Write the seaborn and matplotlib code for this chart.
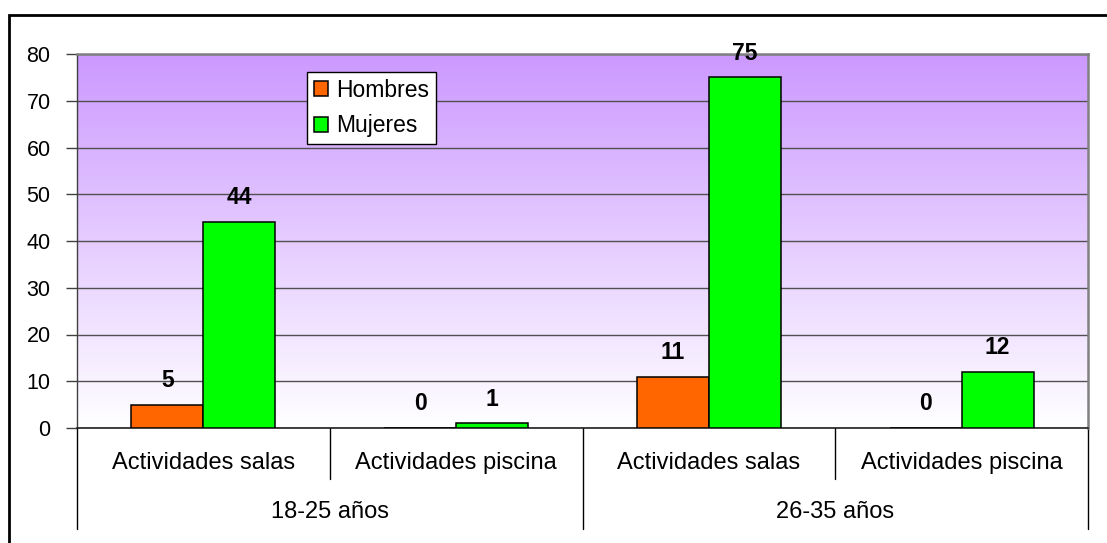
import numpy as np
import pandas as pd
import matplotlib
matplotlib.use("Agg")
import matplotlib.pyplot as plt
import seaborn as sns
from matplotlib.patches import Rectangle

# datos
grupos = ['18-25 años', '18-25 años', '26-35 años', '26-35 años']
actividades = ['Actividades salas', 'Actividades piscina', 'Actividades salas', 'Actividades piscina']
hombres = [5, 0, 11, 0]
mujeres = [44, 1, 75, 12]
series = ['Hombres', 'Mujeres']
colores = ['#FF6600', '#00FF00']
yticks = list(range(0, 81, 10))

claves = [f"{g}|{a}" for g, a in zip(grupos, actividades)]
df = pd.DataFrame({
    'clave': claves * 2,
    'sexo': ['Hombres'] * 4 + ['Mujeres'] * 4,
    'valor': hombres + mujeres,
})

sns.set_style('white')
plt.rcParams['font.family'] = ['Liberation Sans', 'DejaVu Sans']
plt.rcParams['text.color'] = 'black'
plt.rcParams['ytick.color'] = 'black'
plt.rcParams['ytick.labelcolor'] = 'black'

fig = plt.figure(figsize=(11.07, 5.43), dpi=100, facecolor='white')
ax = fig.add_axes([77 / 1107, 1 - 428 / 543, (1088 - 77) / 1107, (428 - 54) / 543])

# fondo degradado lila -> blanco
grad = np.linspace(1, 0, 256)[:, None]
top = np.array([204, 153, 255]) / 255
img = np.ones((256, 1, 3)) * (1 - grad[..., None]) + top * grad[..., None]
ax.imshow(img, extent=[0, 1, 0, 1], transform=ax.transAxes, aspect='auto', zorder=0)

sns.barplot(data=df, x='clave', y='valor', hue='sexo', order=claves, hue_order=series,
            palette=colores, edgecolor='black', linewidth=1.1, width=0.57, ax=ax,
            zorder=3, saturation=1)

ax.set_xlim(-0.5, 3.5)
ax.set_ylim(0, 80)
ax.set_yticks(yticks)
ax.yaxis.grid(True, color='#505050', linewidth=1.0, zorder=1)
ax.set_axisbelow(True)
ax.set_xlabel('')
ax.set_ylabel('')
ax.set_xticks([])
ax.tick_params(axis='y', length=8, width=1, color='#404040', pad=11, labelsize=15.5, left=True)

for s in ['top', 'right']:
    ax.spines[s].set_color('#808080')
    ax.spines[s].set_linewidth(1.8)
ax.spines['left'].set_color('#404040')
ax.spines['left'].set_linewidth(1)
ax.spines['bottom'].set_color('#202020')
ax.spines['bottom'].set_linewidth(1.2)

# etiquetas de valor
for cont in ax.containers:
    for bar in cont:
        h = bar.get_height()
        ax.annotate(f"{int(h)}", (bar.get_x() + bar.get_width() / 2, h),
                    xytext=(0, 17.5), textcoords='offset points',
                    ha='center', va='center', fontsize=16.5, fontweight='bold', zorder=5)

# eje de categorias multinivel
tr = ax.get_xaxis_transform()
for i, a in enumerate(actividades):
    ax.text(i, -0.094, a, transform=tr, ha='center', va='center', fontsize=17)
for x0 in [0.5, 2.5]:
    ax.plot([x0, x0], [0, -0.137], transform=tr, color='black', linewidth=1, clip_on=False)
for x0 in [-0.5, 1.5, 3.5]:
    ax.plot([x0, x0], [0, -0.27], transform=tr, color='black', linewidth=1, clip_on=False)
for k, g in enumerate(['18-25 años', '26-35 años']):
    ax.text(2 * k + 0.5, -0.225, g, transform=tr, ha='center', va='center', fontsize=17)

handles, labels = ax.get_legend_handles_labels()
leg = ax.legend(handles, labels, loc='upper left', bbox_to_anchor=(0.2275, 0.952),
                borderaxespad=0, frameon=True, fancybox=False, edgecolor='black',
                framealpha=1, fontsize=16.5, handlelength=0.6, handleheight=0.6,
                handletextpad=0.35, labelspacing=0.55, borderpad=0.3)
leg.get_frame().set_linewidth(1)
leg.set_zorder(6)

# marco exterior del grafico
fig.patches.append(Rectangle((9 / 1107, -0.05), 1.2, 0.05 + 1 - 15 / 543,
                             transform=fig.transFigure, fill=False,
                             edgecolor='black', linewidth=2))

fig.savefig('out.png', dpi=100, facecolor='white')
